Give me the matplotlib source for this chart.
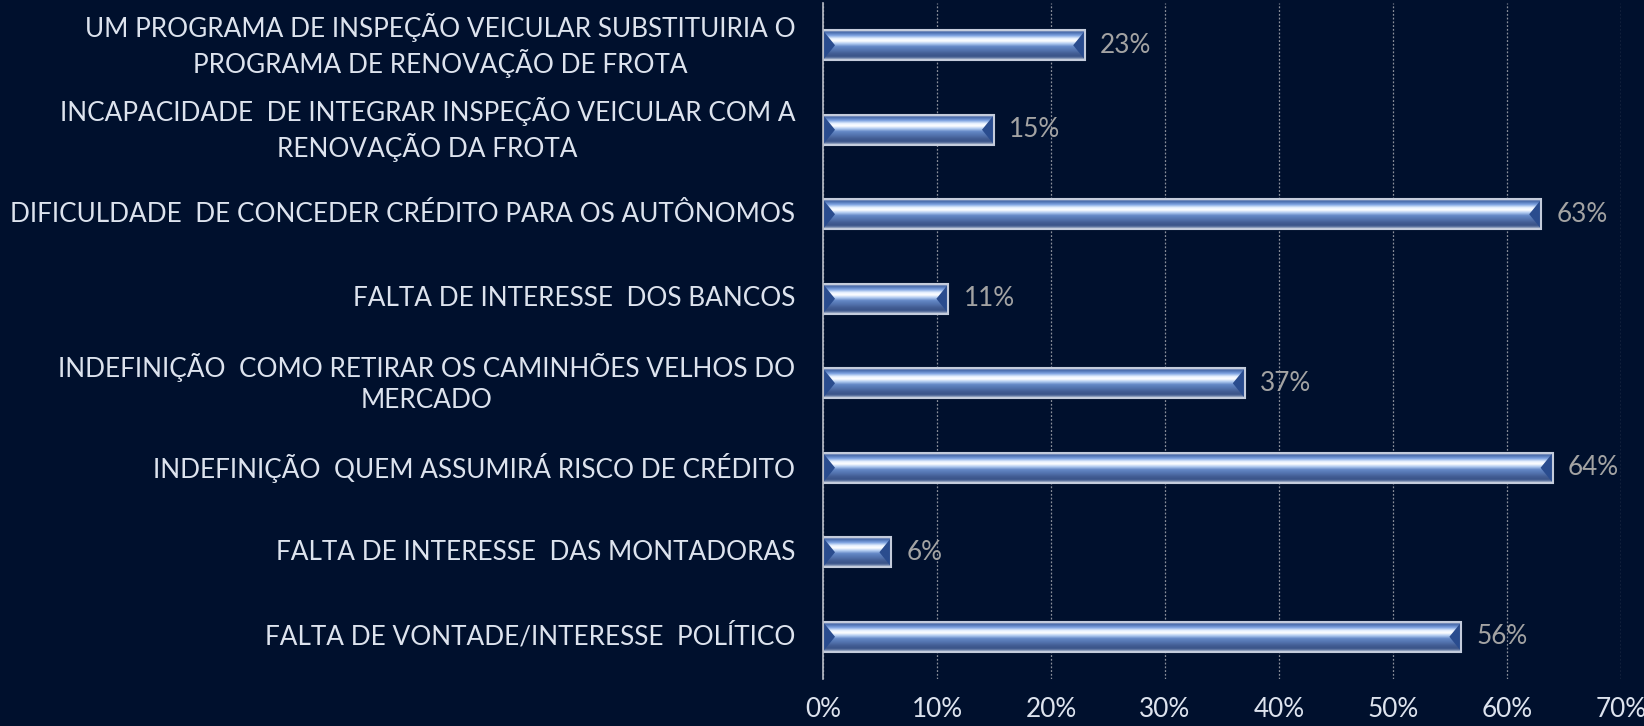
import matplotlib.pyplot as plt
import numpy as np
from matplotlib.colors import to_rgba
from matplotlib.patches import Rectangle, Polygon
from matplotlib.ticker import FuncFormatter

categories = [
    'UM PROGRAMA DE INSPEÇÃO VEICULAR SUBSTITUIRIA O\nPROGRAMA DE RENOVAÇÃO DE FROTA',
    'INCAPACIDADE  DE INTEGRAR INSPEÇÃO VEICULAR COM A\nRENOVAÇÃO DA FROTA',
    'DIFICULDADE  DE CONCEDER CRÉDITO PARA OS AUTÔNOMOS',
    'FALTA DE INTERESSE  DOS BANCOS',
    'INDEFINIÇÃO  COMO RETIRAR OS CAMINHÕES VELHOS DO\nMERCADO',
    'INDEFINIÇÃO  QUEM ASSUMIRÁ RISCO DE CRÉDITO',
    'FALTA DE INTERESSE  DAS MONTADORAS',
    'FALTA DE VONTADE/INTERESSE  POLÍTICO',
]
values = [0.23, 0.15, 0.63, 0.11, 0.37, 0.64, 0.06, 0.56]
xticks = [0, 0.1, 0.2, 0.3, 0.4, 0.5, 0.6, 0.7]

bg = '#00102d'
txt = '#dde3ee'
fs = 18.8
plt.rcParams['font.family'] = ['Lato', 'DejaVu Sans']

fig = plt.figure(figsize=(16.44, 7.26), dpi=100, facecolor=bg)
ax = fig.add_axes([823 / 1644, 1 - 679 / 726, (1621 - 823) / 1644, 676 / 726])
ax.set_facecolor(bg)

n = len(categories)
ypos = np.arange(n)
h = 0.35

# vertical gradient for the bevelled bar face (top -> bottom)
stops = [(0.0, '#b4bed0'), (0.07, '#4668aa'), (0.18, '#7fa4e2'), (0.28, '#e8f2ff'),
         (0.36, '#ffffff'), (0.45, '#b4cdf2'), (0.55, '#6488c6'), (0.68, '#5272ad'),
         (0.78, '#435e95'), (0.88, '#3a5488'), (0.94, '#6a7fa8'), (1.0, '#d8dfea')]
t = np.linspace(0, 1, 80)
grad = np.zeros((80, 1, 4))
for c in range(4):
    grad[:, 0, c] = np.interp(t, [s[0] for s in stops], [to_rgba(s[1])[c] for s in stops])

bev = 12 / 1140  # bevel width in data units
for y, v in zip(ypos, values):
    y0, y1 = y - h / 2, y + h / 2
    rect = Rectangle((0, y0), v, h, facecolor='none', edgecolor='#c4ccdc', lw=1.5, zorder=4)
    ax.add_patch(rect)
    im = ax.imshow(grad, extent=(0, v, y1, y0), aspect='auto', zorder=3, interpolation='bilinear')
    im.set_clip_path(rect)
    ax.add_patch(Polygon([(0, y0), (bev, y), (0, y1)], closed=True, facecolor='#2a4c8e', edgecolor='none', zorder=3.5))
    ax.add_patch(Polygon([(v, y0), (v - bev, y), (v, y1)], closed=True, facecolor='#2a4c8e', edgecolor='none', zorder=3.5))
    ax.text(v + 15 / 1140, y, f'{v * 100:.0f}%', va='center', ha='left', color='#a3a3a3', fontsize=fs, zorder=5)

ax.set_xlim(0, 0.7)
ax.set_ylim(n - 0.5, -0.5)
ax.set_xticks(xticks)
ax.xaxis.set_major_formatter(FuncFormatter(lambda x, p: f'{x * 100:.0f}%'))
ax.set_yticks(ypos)
ax.set_yticklabels(categories)
for lab in ax.get_yticklabels():
    lab.set_multialignment('center')
    lab.set_linespacing(1.3)
    lab.set_verticalalignment('center')
ax.tick_params(axis='y', length=0, pad=20, colors=txt, labelsize=fs)
ax.tick_params(axis='x', length=0, pad=13, colors=txt, labelsize=fs)

ax.grid(axis='x', color='#8a8f9a', linestyle=(0, (1.5, 1.5)), linewidth=0.9, zorder=1)
ax.set_axisbelow(True)
for s in ['top', 'right', 'bottom']:
    ax.spines[s].set_visible(False)
ax.spines['left'].set_color('#b8bcc6')
ax.spines['left'].set_linewidth(1.2)
ax.spines['left'].set_zorder(6)

fig.savefig('out.png', dpi=100, facecolor=bg)
